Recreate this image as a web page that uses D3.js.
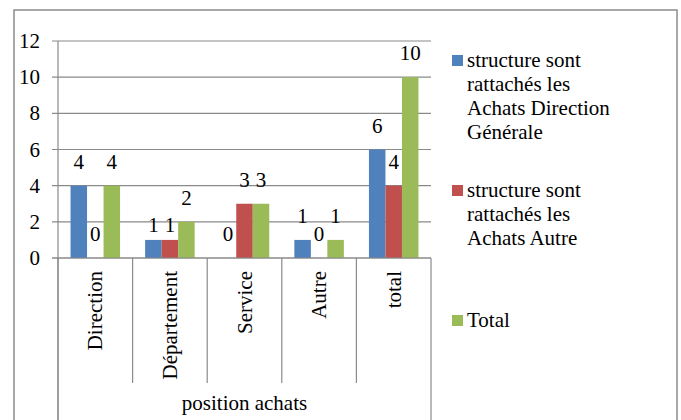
<!DOCTYPE html>
<html>
<head>
<meta charset="utf-8">
<script src="https://cdn.jsdelivr.net/npm/d3@7"></script>
<style>
  body { margin: 0; background: #fff; }
</style>
</head>
<body>
<div id="chart"></div>
<script>
// data
const categories = ["Direction", "Département", "Service", "Autre", "total"];
const seriesNames = [
  "structure sont rattachés les Achats Direction Générale",
  "structure sont rattachés les Achats Autre",
  "Total"
];
const valuesDirectionGenerale = [4, 1, 0, 1, 6];
const valuesAutre = [0, 1, 3, 0, 4];
const valuesTotal = [4, 2, 3, 1, 10];
const yTicks = [0, 2, 4, 6, 8, 10, 12];
const axisTitle = "position achats";

const colors = ["#4F81BD", "#C0504D", "#9BBB59"];
const series = [valuesDirectionGenerale, valuesAutre, valuesTotal];

const width = 681, height = 420;
const plot = { left: 58, right: 431, top: 41, bottom: 258 };
const gridColor = "#8a8a8a";
const fontSize = 21;
const fontFamily = '"Liberation Serif"';

const svg = d3.select("#chart")
  .append("svg")
  .attr("width", width)
  .attr("height", height);

// helper so every label gets the same serif font
function styleText(sel) {
  return sel
    .style("font-family", fontFamily)
    .style("font-size", fontSize + "px")
    .style("fill", "#000");
}

// outer frame (bottom edge is cut off in the original)
svg.append("rect")
  .attr("x", 14).attr("y", 10)
  .attr("width", 663).attr("height", 440)
  .attr("fill", "none")
  .attr("stroke", "#8c8c8c")
  .attr("stroke-width", 1.5);

// scales
const x0 = d3.scaleBand().domain(categories).range([plot.left, plot.right]);
const x1 = d3.scaleBand().domain(d3.range(series.length))
  .range([0, x0.bandwidth()])
  .paddingInner(0)
  .paddingOuter(0.76);
const y = d3.scaleLinear().domain([0, 12]).range([plot.bottom, plot.top]);

// gridlines + ticks
const grid = svg.append("g");
grid.selectAll("line")
  .data(yTicks)
  .join("line")
  .attr("x1", plot.left - 6)
  .attr("x2", plot.right)
  .attr("y1", d => y(d))
  .attr("y2", d => y(d))
  .attr("stroke", gridColor)
  .attr("stroke-width", 1.2);

grid.selectAll("text")
  .data(yTicks)
  .join("text")
  .attr("x", 40)
  .attr("y", d => y(d) + 7)
  .attr("text-anchor", "end")
  .call(styleText)
  .text(d => d);

// y axis line
svg.append("line")
  .attr("x1", plot.left).attr("x2", plot.left)
  .attr("y1", plot.top).attr("y2", height)
  .attr("stroke", gridColor).attr("stroke-width", 1.2);

// category dividers under the axis
const dividers = x0.domain().map(c => x0(c)).concat([plot.right]);
svg.append("g").selectAll("line")
  .data(dividers)
  .join("line")
  .attr("x1", d => d).attr("x2", d => d)
  .attr("y1", plot.bottom)
  .attr("y2", (d, i) => (i === 0 || i === dividers.length - 1) ? height : 383)
  .attr("stroke", gridColor).attr("stroke-width", 1.2);

// bars
const groups = svg.append("g")
  .selectAll("g")
  .data(categories)
  .join("g")
  .attr("transform", d => `translate(${x0(d)},0)`);

groups.selectAll("rect")
  .data((c, ci) => series.map((s, si) => ({ si, v: s[ci] })))
  .join("rect")
  .attr("x", d => x1(d.si))
  .attr("width", x1.bandwidth())
  .attr("y", d => y(d.v))
  .attr("height", d => y(0) - y(d.v))
  .attr("fill", d => colors[d.si]);

// value labels (Excel pushed the two "1" labels of Département down)
groups.selectAll("text")
  .data((c, ci) => series.map((s, si) => ({ c, si, v: s[ci] })))
  .join("text")
  .attr("x", d => x1(d.si) + x1.bandwidth() / 2)
  .attr("y", d => y(d.v) - ((d.c === "Département" && d.si < 2) ? 8 : 17))
  .attr("text-anchor", "middle")
  .call(styleText)
  .text(d => d.v);

// baseline on top of the bars
svg.append("line")
  .attr("x1", plot.left - 6).attr("x2", plot.right)
  .attr("y1", plot.bottom).attr("y2", plot.bottom)
  .attr("stroke", gridColor).attr("stroke-width", 1.2);

// rotated category labels
svg.append("g").selectAll("text")
  .data(categories)
  .join("text")
  .attr("transform", d => `translate(${x0(d) + x0.bandwidth() / 2 + 7},271) rotate(-90)`)
  .attr("text-anchor", "end")
  .call(styleText)
  .text(d => d);

// axis title
svg.append("text")
  .attr("x", (plot.left + plot.right) / 2)
  .attr("y", 410)
  .attr("text-anchor", "middle")
  .call(styleText)
  .text(axisTitle);

// legend
const legend = svg.append("g")
  .selectAll("g")
  .data(seriesNames)
  .join("g")
  .attr("transform", (d, i) => `translate(452,${67 + i * 130})`);

legend.append("rect")
  .attr("x", 0).attr("y", -12)
  .attr("width", 11).attr("height", 11)
  .attr("fill", (d, i) => colors[i]);

legend.append("text")
  .attr("x", 15)
  .attr("y", 0)
  .call(styleText)
  .each(function (d) {
    // greedy word wrap
    const el = d3.select(this);
    const words = d.split(" ");
    let line = [];
    let tspan = el.append("tspan").attr("x", 15).attr("dy", 0);
    words.forEach(w => {
      line.push(w);
      tspan.text(line.join(" "));
      if (tspan.node().getComputedTextLength() > 155 && line.length > 1) {
        line.pop();
        tspan.text(line.join(" "));
        line = [w];
        tspan = el.append("tspan").attr("x", 15).attr("dy", 24).text(w);
      }
    });
  });
</script>
</body>
</html>
